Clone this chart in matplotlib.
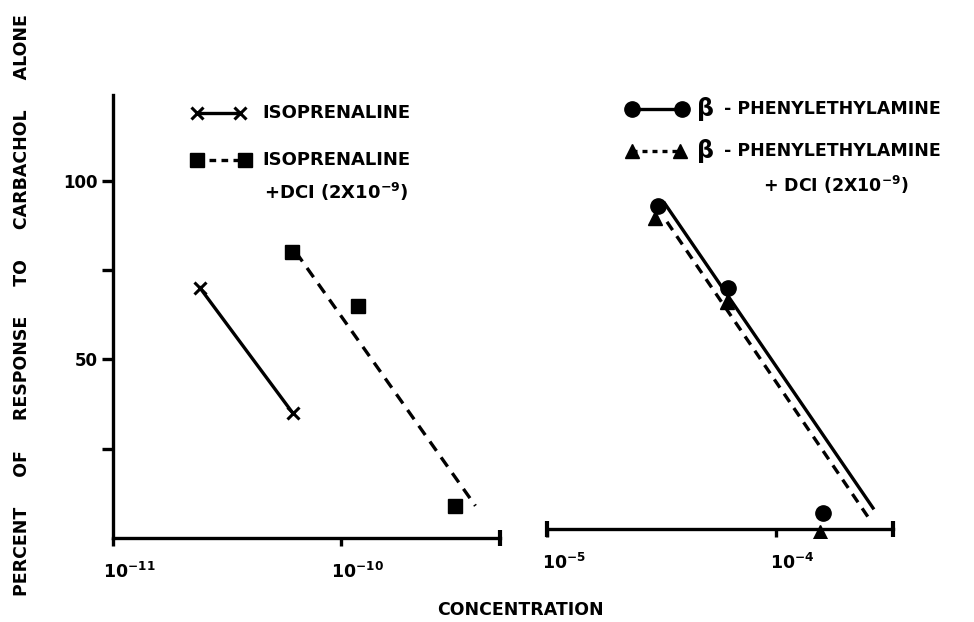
import matplotlib.pyplot as plt
from matplotlib.lines import Line2D
from matplotlib.ticker import NullLocator, FixedLocator
from matplotlib.transforms import ScaledTranslation, blended_transform_factory

plt.rcParams['font.family'] = ['DejaVu Sans']
plt.rcParams['font.weight'] = 'bold'
plt.rcParams['mathtext.default'] = 'bf'

# isoprenaline (left panel)
iso_conc = [2.41e-11, 6.15e-11]
iso_resp = [70, 35]
iso_dci_conc = [6.1e-11, 1.19e-10, 3.16e-10]
iso_dci_resp = [80, 65, 9]
iso_dci_fit_conc = [6.35e-11, 3.9e-10]
iso_dci_fit_resp = [80, 9]

# beta-phenylethylamine (right panel)
pea_conc = [3.05e-5, 6.17e-5, 1.6e-4]
pea_resp = [93, 70, 7]
pea_fit_conc = [3.27e-5, 2.65e-4]
pea_fit_resp = [93.6, 8.4]
pea_dci_conc = [2.96e-5, 6.1e-5, 1.56e-4]
pea_dci_resp = [89.5, 66, 1.7]
pea_dci_fit_conc = [3.34e-5, 2.52e-4]
pea_dci_fit_resp = [88.5, 5.9]

left_ticks = [1e-11, 1e-10]
left_ticklabels = ['10$^{-11}$', '10$^{-10}$']
right_ticks = [1e-5, 1e-4]
right_ticklabels = ['10$^{-5}$', '10$^{-4}$']
y_major = [50, 100]
y_minor = [25, 75]

W, H = 974, 622
fig = plt.figure(figsize=(W / 100, H / 100), dpi=100)


def box(x0, x1, y0, y1):
    return [x0 / W, 1 - y1 / H, (x1 - x0) / W, (y1 - y0) / H]


def fx(x):
    return x / W


def fy(y):
    return 1 - y / H


lw = 2.4
ax1 = fig.add_axes(box(113, 500, 95, 538))
ax2 = fig.add_axes(box(547, 893, 95, 538), sharey=ax1)

ax1.set_xscale('log')
ax2.set_xscale('log')
ax1.set_xlim(1e-11, 5e-10)
ax2.set_xlim(1e-5, 3.24e-4)
ax1.set_ylim(0, 124)

# left panel data
ax1.plot(iso_conc, iso_resp, color='k', lw=lw, marker='x', ms=8, mew=2.2)
ax1.plot(iso_dci_conc, iso_dci_resp, 'ks', ms=10, ls='none')
ax1.plot(iso_dci_fit_conc, iso_dci_fit_resp, color='k', lw=lw, ls=(0, (3.4, 2.4)))

# right panel data
ax2.plot(pea_conc, pea_resp, 'ko', ms=11, ls='none')
ax2.plot(pea_fit_conc, pea_fit_resp, color='k', lw=lw)
ax2.plot(pea_dci_conc, pea_dci_resp, 'k^', ms=10, ls='none')
ax2.plot(pea_dci_fit_conc, pea_dci_fit_resp, color='k', lw=lw, ls=(0, (3, 2.2)))

# axes styling
for s in ['top', 'right']:
    ax1.spines[s].set_visible(False)
for s in ['top', 'right', 'left']:
    ax2.spines[s].set_visible(False)
ax1.spines['left'].set_linewidth(lw)
ax1.spines['bottom'].set_linewidth(lw)
ax2.spines['bottom'].set_linewidth(lw)
ax2.spines['bottom'].set_position(('data', 2.5))

ax1.set_xticks(left_ticks)
ax1.set_xticklabels(left_ticklabels)
ax2.set_xticks(right_ticks)
ax2.set_xticklabels(right_ticklabels)
for ax in (ax1, ax2):
    ax.xaxis.set_minor_locator(NullLocator())
    ax.tick_params(axis='x', length=6, width=lw, labelsize=12.5, pad=11)
    for lab in ax.get_xticklabels():
        lab.set_transform(lab.get_transform() + ScaledTranslation(12 / 72, 0, fig.dpi_scale_trans))

ax1.yaxis.set_major_locator(FixedLocator(y_major))
ax1.yaxis.set_minor_locator(FixedLocator(y_minor))
ax1.tick_params(axis='y', which='both', length=8, width=lw, labelsize=12, pad=3)
ax2.tick_params(axis='y', which='both', left=False, labelleft=False)

# end caps on the concentration axes
t1 = blended_transform_factory(ax1.transAxes, ax1.transData)
ax1.plot([1], [0], transform=t1, marker='|', ms=11, mew=3, color='k', clip_on=False)
t2 = blended_transform_factory(ax2.transAxes, ax2.transData)
ax2.plot([0, 1], [2.5, 2.5], transform=t2, marker='|', ms=11, mew=3, color='k',
         ls='none', clip_on=False)

# legends drawn by hand
fs = 13
fig.add_artist(Line2D([fx(197), fx(240)], [fy(113), fy(113)], color='k', lw=lw,
                      marker='x', ms=8, mew=2.2))
fig.text(fx(262), fy(113), 'ISOPRENALINE', fontsize=fs, va='center')
fig.add_artist(Line2D([fx(197), fx(245)], [fy(160), fy(160)], color='k', lw=lw,
                      ls=(0, (2, 1.6)), marker='s', ms=10))
fig.text(fx(262), fy(160), 'ISOPRENALINE', fontsize=fs, va='center')
fig.text(fx(264), fy(192), '+DCI (2X10$^{-9}$)', fontsize=fs, va='center')

fs2 = 12.5
fig.add_artist(Line2D([fx(632), fx(682)], [fy(109), fy(109)], color='k', lw=lw,
                      marker='o', ms=11))
fig.text(fx(696), fy(109), r'$\beta$', fontsize=17, va='center')
fig.text(fx(724), fy(109), '- PHENYLETHYLAMINE', fontsize=fs2, va='center')
fig.add_artist(Line2D([fx(632), fx(680)], [fy(151), fy(151)], color='k', lw=lw,
                      ls=(0, (1.5, 1.5)), marker='^', ms=10))
fig.text(fx(696), fy(151), r'$\beta$', fontsize=17, va='center')
fig.text(fx(724), fy(151), '- PHENYLETHYLAMINE', fontsize=fs2, va='center')
fig.text(fx(763), fy(185), '+ DCI (2X10$^{-9}$)', fontsize=fs2, va='center')

# axis titles
fig.text(fx(22), fy(305), 'PERCENT     OF     RESPONSE     TO     CARBACHOL     ALONE',
         fontsize=12.5, rotation=90, ha='center', va='center')
fig.text(fx(520), fy(610), 'CONCENTRATION', fontsize=12.5, ha='center', va='center')

fig.savefig('out.png', dpi=100)
